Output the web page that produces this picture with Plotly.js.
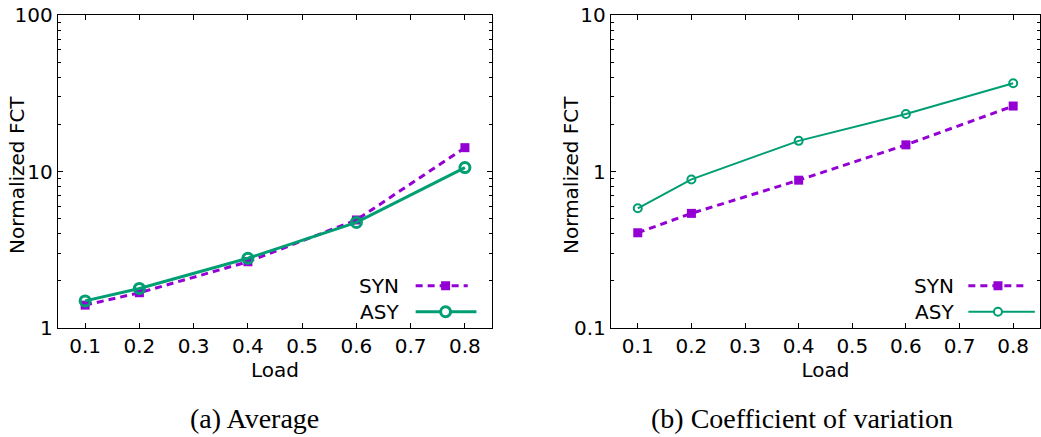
<!DOCTYPE html>
<html><head><meta charset="utf-8">
<script src="https://cdn.plot.ly/plotly-3.0.1.min.js"></script>
<style>html,body{margin:0;padding:0;background:#fff}#chart{width:1041px;height:437px}</style>
</head><body><div id="chart"></div>
<script>
const loads = [0.1, 0.2, 0.4, 0.6, 0.8];
const avgSYN = [1.40, 1.68, 2.65, 4.9, 14.2];
const avgASY = [1.49, 1.79, 2.79, 4.73, 10.6];
const cvSYN = [0.406, 0.54, 0.88, 1.48, 2.62];
const cvASY = [0.582, 0.89, 1.57, 2.33, 3.66];
const xTicks = [0.1, 0.2, 0.3, 0.4, 0.5, 0.6, 0.7, 0.8];
const avgYTicks = [1, 10, 100];
const cvYTicks = [0.1, 1, 10];
const seriesNames = ['SYN', 'ASY'];
const captions = ['(a) Average', '(b) Coefficient of variation'];
const xTitle = 'Load', yTitle = 'Normalized FCT';

const purple = '#9400d3', green = '#009e73';
const font = 'DejaVu Sans, sans-serif';

const data = [
  {x: loads, y: avgSYN, xaxis: 'x', yaxis: 'y', mode: 'lines+markers', name: seriesNames[0],
   line: {color: purple, width: 3, dash: '7px,5px'}, marker: {symbol: 'square', size: 9, color: purple}},
  {x: loads, y: avgASY, xaxis: 'x', yaxis: 'y', mode: 'lines+markers', name: seriesNames[1],
   line: {color: green, width: 3}, marker: {symbol: 'circle-open', size: 10, color: green, line: {width: 3, color: green}}},
  {x: loads, y: cvSYN, xaxis: 'x2', yaxis: 'y2', mode: 'lines+markers', name: seriesNames[0],
   line: {color: purple, width: 3, dash: '7px,5px'}, marker: {symbol: 'square', size: 9, color: purple}},
  {x: loads, y: cvASY, xaxis: 'x2', yaxis: 'y2', mode: 'lines+markers', name: seriesNames[1],
   line: {color: green, width: 2}, marker: {symbol: 'circle-open', size: 8, color: green, line: {width: 2, color: green}}}
];

function xax(domain, anchor) {
  return {domain: domain, anchor: anchor, range: [0.05, 0.85], tickvals: xTicks,
    ticktext: xTicks.map(v => v.toFixed(1)), ticks: 'inside', ticklen: 5, tickcolor: '#000', tickwidth: 1,
    showline: true, linecolor: '#000', linewidth: 1.2, mirror: 'ticks', showgrid: false, zeroline: false,
    tickfont: {family: font, size: 20, color: '#000'},
    title: {text: xTitle, font: {family: font, size: 20, color: '#000'}, standoff: 4}};
}
function minorVals(tv) {
  const out = [];
  for (let i = 0; i < tv.length - 1; i++) for (let k = 2; k <= 9; k++) out.push(+(tv[i] * k).toPrecision(3));
  return out;
}
function yax(range, tv, anchor) {
  return {type: 'log', range: range, anchor: anchor, tickvals: tv, ticktext: tv.map(String),
    ticks: 'inside', ticklen: 5, tickcolor: '#000', tickwidth: 1,
    minor: {ticks: 'inside', ticklen: 3, tickcolor: '#000', tickwidth: 1, tickvals: minorVals(tv), showgrid: false},
    showline: true, linecolor: '#000', linewidth: 1.2, mirror: 'ticks', showgrid: false, zeroline: false,
    tickfont: {family: font, size: 20, color: '#000'}};
}

const annotations = [], shapes = [];
function legend(xref, yref, textX, lineX0, lineX1, markX, isRight) {
  const ys = [0.135, 0.052];
  for (let i = 0; i < 2; i++) {
    annotations.push({xref: xref, yref: yref, x: textX, y: ys[i], text: seriesNames[i], showarrow: false,
      xanchor: 'right', yanchor: 'middle', font: {family: font, size: 20, color: '#000'}});
  }
  shapes.push({type: 'line', xref: xref, yref: yref, x0: lineX0, x1: lineX1, y0: ys[0], y1: ys[0],
    line: {color: purple, width: 3, dash: '7px,5px'}});
  shapes.push({type: 'line', xref: xref, yref: yref, x0: lineX0, x1: lineX1 + 0.02, y0: ys[1], y1: ys[1],
    line: {color: green, width: isRight ? 2 : 3}});
  shapes.push({type: 'rect', xref: xref, yref: yref, xsizemode: 'pixel', ysizemode: 'pixel',
    xanchor: markX, yanchor: ys[0], x0: -4.5, x1: 4.5, y0: -4.5, y1: 4.5,
    fillcolor: purple, line: {width: 0}});
  const r = isRight ? 4 : 5;
  shapes.push({type: 'circle', xref: xref, yref: yref, xsizemode: 'pixel', ysizemode: 'pixel',
    xanchor: markX, yanchor: ys[1], x0: -r, x1: r, y0: -r, y1: r,
    fillcolor: 'white', line: {color: green, width: isRight ? 2 : 3}});
}
legend('x domain', 'y domain', 0.79, 0.824, 0.944, 0.893, false);
legend('x2 domain', 'y2 domain', 0.804, 0.833, 0.968, 0.902, true);

const titleFont = {family: font, size: 20, color: '#000'};
annotations.push({xref: 'paper', yref: 'paper', x: -0.0418, y: 0.489, text: yTitle, textangle: -90,
  showarrow: false, xanchor: 'center', yanchor: 'middle', font: titleFont});
annotations.push({xref: 'paper', yref: 'paper', x: 0.5224, y: 0.489, text: yTitle, textangle: -90,
  showarrow: false, xanchor: 'center', yanchor: 'middle', font: titleFont});

const capFont = {family: 'Liberation Serif, serif', size: 28, color: '#000'};
annotations.push({xref: 'paper', yref: 'paper', x: 0.2, y: -0.29, text: captions[0], showarrow: false,
  xanchor: 'center', yanchor: 'middle', font: capFont});
annotations.push({xref: 'paper', yref: 'paper', x: 0.758, y: -0.29, text: captions[1], showarrow: false,
  xanchor: 'center', yanchor: 'middle', font: capFont});

const layout = {
  width: 1041, height: 437, margin: {l: 58, r: 1, t: 15, b: 109},
  paper_bgcolor: '#fff', plot_bgcolor: '#fff', showlegend: false,
  xaxis: xax([0, 0.442], 'y'), yaxis: yax([0, 2], avgYTicks, 'x'),
  xaxis2: xax([0.5631, 1], 'y2'), yaxis2: yax([-1, 1], cvYTicks, 'x2'),
  annotations: annotations, shapes: shapes
};
Plotly.newPlot('chart', data, layout, {displayModeBar: false, staticPlot: true});
</script></body></html>
